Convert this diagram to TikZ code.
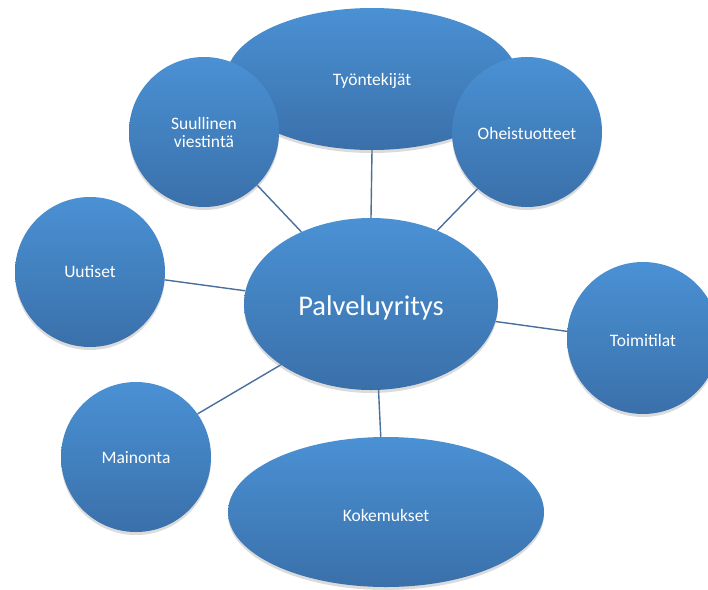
\documentclass[tikz,border=0pt]{standalone}
\usepackage{fontspec}
\setmainfont{Carlito}
\usetikzlibrary{shapes.geometric,shadows,backgrounds}
\definecolor{blobtop}{RGB}{74,145,212}
\definecolor{blobbot}{RGB}{58,112,170}
\definecolor{linkc}{RGB}{72,112,158}
\tikzset{
  blob/.style={draw=none, top color=blobtop, bottom color=blobbot,
    text=white, inner sep=0pt, align=center, font=\fontsize{17.5}{20}\selectfont,
    drop shadow={opacity=0.28, shadow xshift=0pt, shadow yshift=-3pt}},
  roundblob/.style={blob, circle, minimum size=150pt},
  ovalblob/.style={blob, ellipse},
  link/.style={draw=linkc, line width=1.4pt}
}
% drop a label a little without changing its box
\newcommand{\lowered}[2]{\raisebox{-#1}[\height][\depth]{#2}}
\begin{document}
\begin{tikzpicture}[x=1pt, y=-1pt]
\clip (0,0) rectangle (708,589);
% outer ellipse at the top, circles placed over it
\node[ovalblob, minimum width=292pt, minimum height=142pt] (tyo) at (372,79) {\lowered{2pt}{Työntekijät}};
\node[roundblob] (suul) at (204,132) {\lowered{2pt}{\begin{tabular}{@{}c@{}}Suullinen\\[-2pt]viestintä\end{tabular}}};
\node[roundblob] (ohei) at (527,132) {\lowered{1pt}{Oheistuotteet}};
\node[roundblob] (uuti) at (90,272) {Uutiset};
\node[roundblob, minimum size=152pt] (toim) at (643,338) {\lowered{2pt}{Toimitilat}};
\node[roundblob] (main) at (136,457) {\lowered{1pt}{Mainonta}};
\node[ovalblob, minimum width=316pt, minimum height=150pt] (koke) at (386,512) {\lowered{3pt}{Kokemukset}};
% central hub
\node[ovalblob, minimum width=254pt, minimum height=172pt,
      font=\fontsize{28.5}{32}\selectfont] (palv) at (371,304) {\lowered{4pt}{Palveluyritys}};
% white page and spokes behind the shapes
\begin{scope}[on background layer]
\fill[white] (0,0) rectangle (708,589);
\draw[link] (suul.-45) -- (palv.134);
\draw[link] (tyo.south) -- (palv.north);
\draw[link] (ohei.229) -- (palv.48);
\draw[link] (uuti.-6) -- (palv.174);
\draw[link] (palv.-8) -- (toim.175);
\draw[link] (palv.214) -- (main.35);
\draw[link] (palv.-85) -- (koke.94);
\end{scope}
\end{tikzpicture}
\end{document}
